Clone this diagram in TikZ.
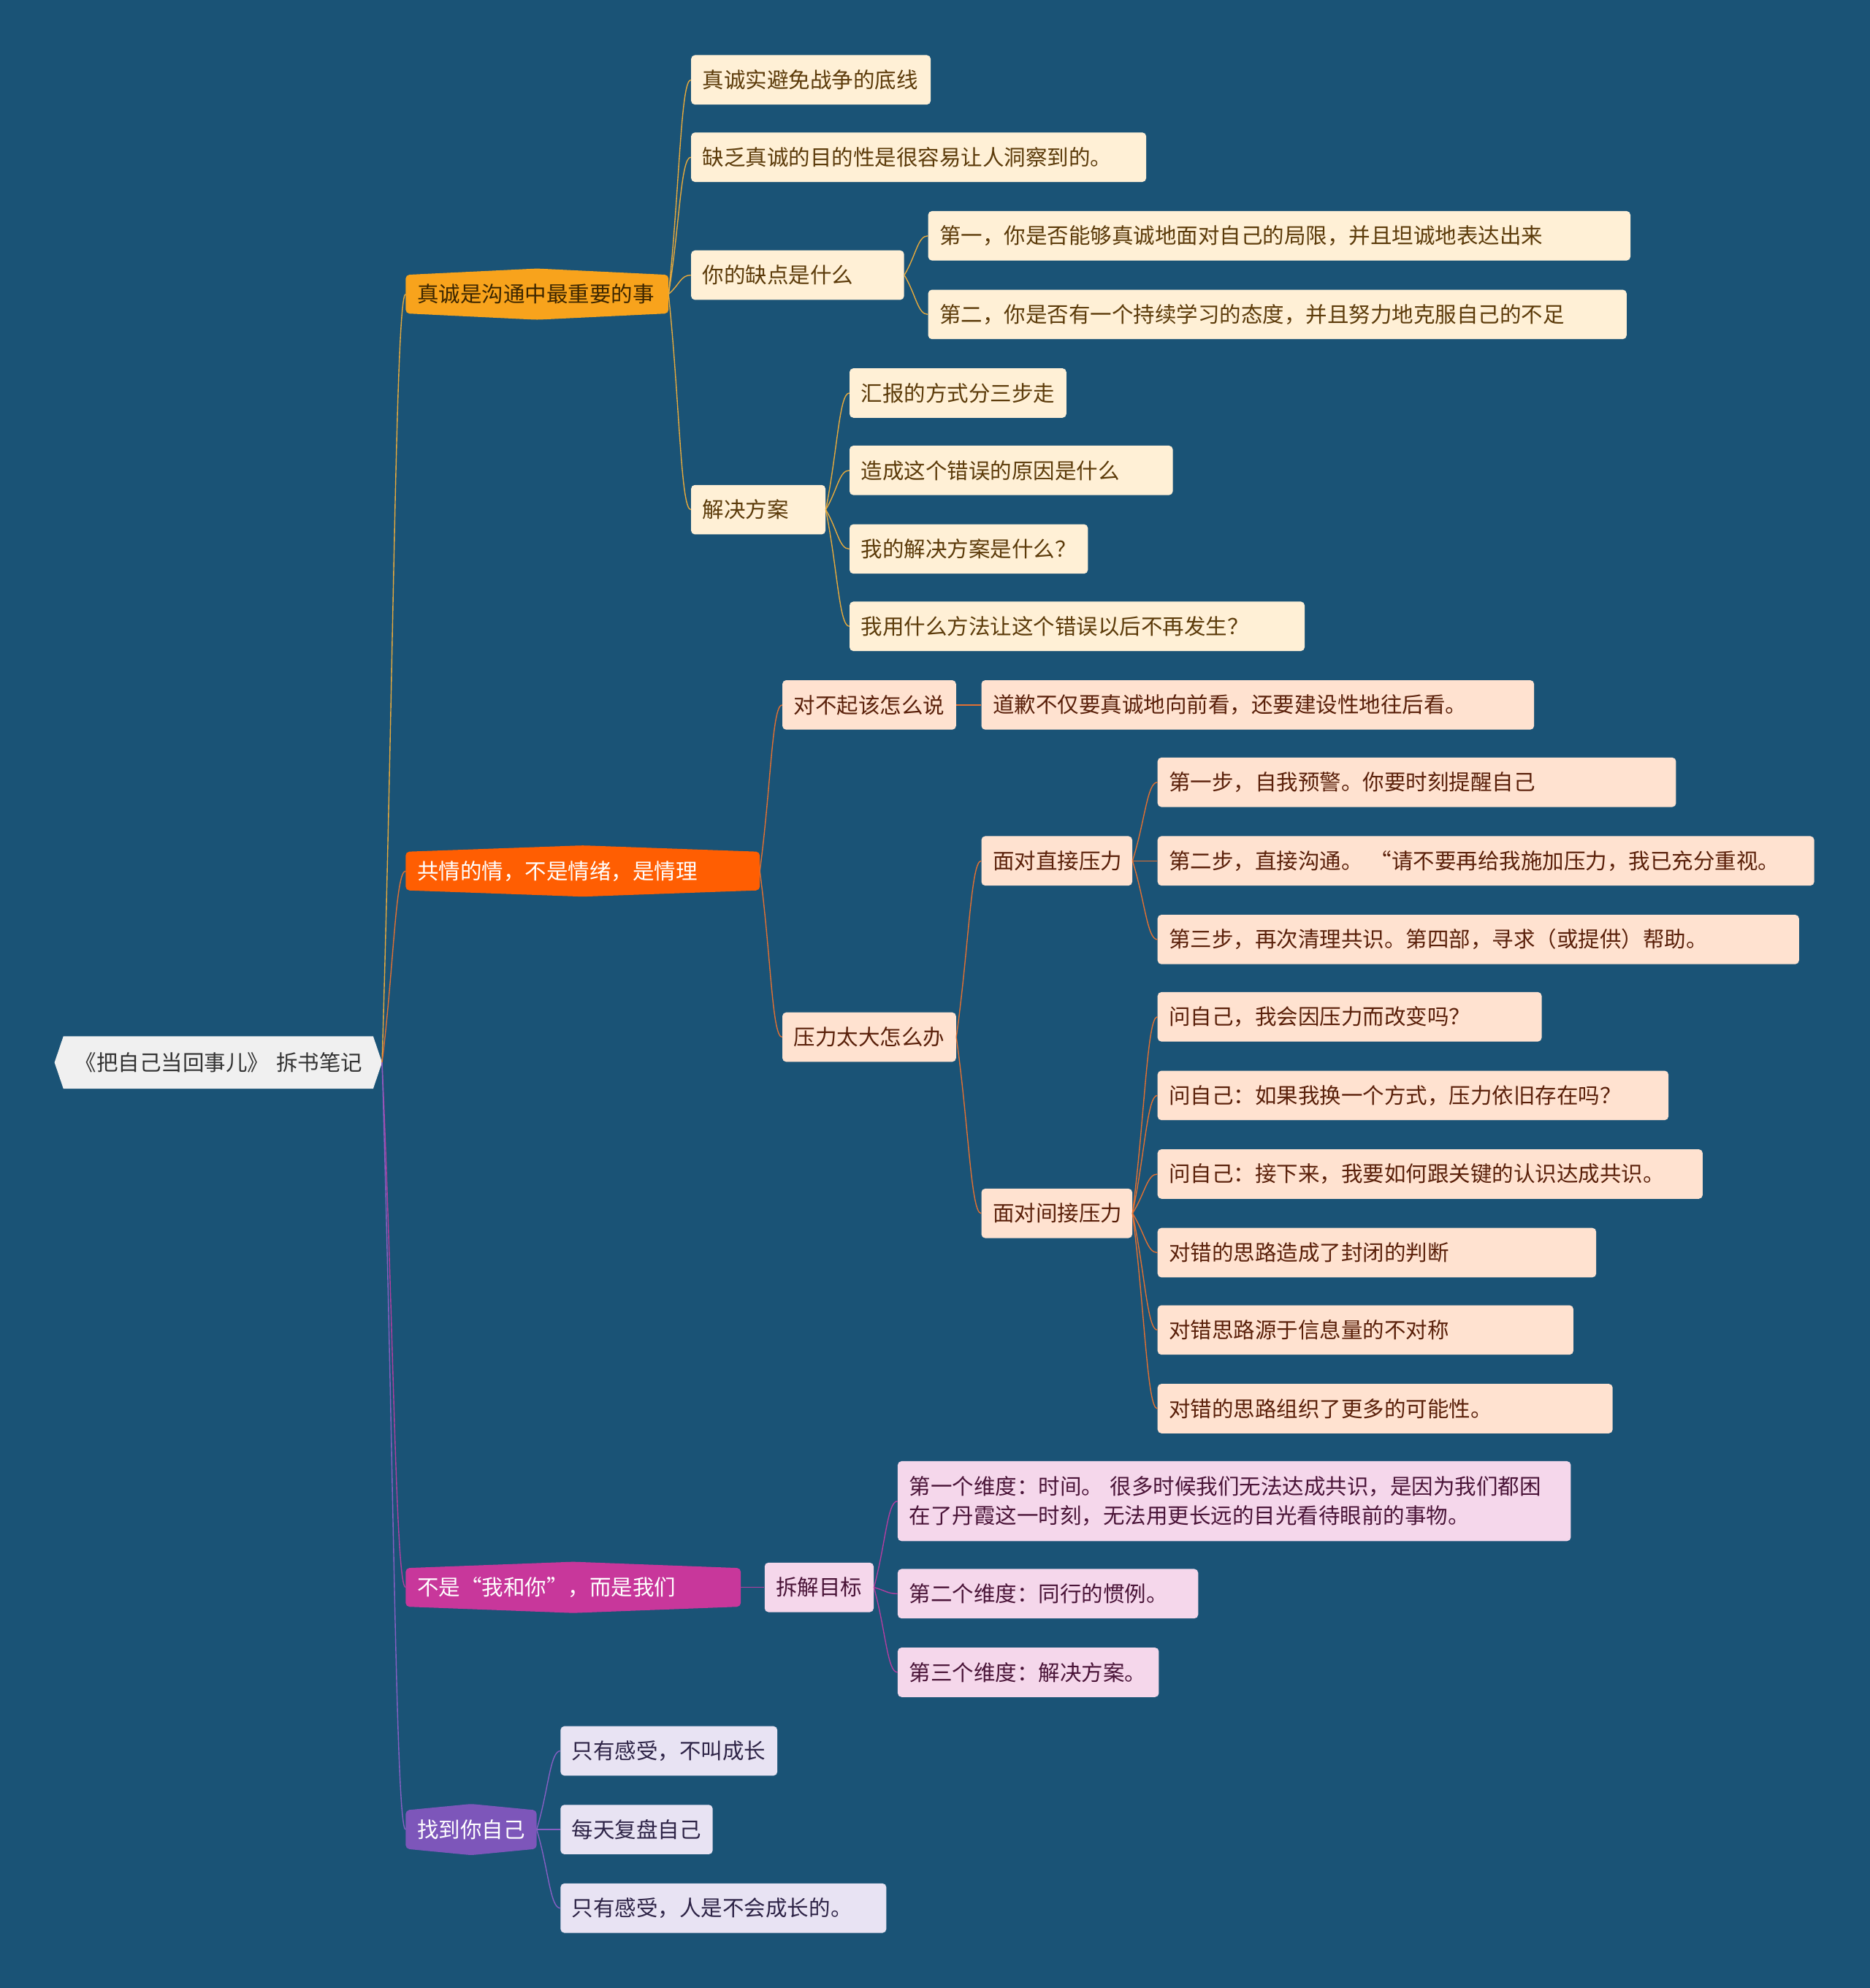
\documentclass[tikz,border=0pt]{standalone}
\usepackage{fontspec}
\setmainfont{Noto Sans CJK SC}
\usepackage{tikz}
\usetikzlibrary{calc, backgrounds}
\definecolor{latarBiru}{RGB}{26,83,118}
\definecolor{akarAbu}{RGB}{240,240,240}
\definecolor{kuningCabang}{RGB}{248,163,28}
\definecolor{oranyeCabang}{RGB}{255,94,2}
\definecolor{magentaCabang}{RGB}{200,55,155}
\definecolor{unguCabang}{RGB}{125,86,186}
\definecolor{krimDaun}{RGB}{255,240,214}
\definecolor{persikDaun}{RGB}{255,226,208}
\definecolor{pinkDaun}{RGB}{245,215,235}
\definecolor{lavenderDaun}{RGB}{232,227,243}
\definecolor{kuningGaris}{RGB}{232,170,60}
\definecolor{oranyeGaris}{RGB}{226,112,50}
\definecolor{magentaGaris}{RGB}{178,62,160}
\definecolor{unguGaris}{RGB}{135,95,195}

\begin{document}
\begin{tikzpicture}[
  x=1pt, y=-1pt,
  tulis/.style={font=\fontsize{17}{23}\selectfont, anchor=west, align=left, inner ysep=0pt, inner xsep=9pt},
  akar/.style={tulis, minimum height=41pt, text=black!80},
  cab/.style={tulis, minimum height=30pt, text=white},
  daun/.style={tulis, minimum height=39pt, rounded corners=3pt},
  daunK/.style={daun, fill=krimDaun, text={rgb,255:red,92;green,59;blue,10}},
  daunP/.style={daun, fill=persikDaun, text={rgb,255:red,90;green,32;blue,10}},
  daunM/.style={daun, fill=pinkDaun, text={rgb,255:red,74;green,20;blue,56}},
  daunU/.style={daun, fill=lavenderDaun, text={rgb,255:red,46;green,36;blue,71}},
  garis/.style={line width=0.8pt},
  hub/.style={to path={.. controls ($(\tikztostart)!0.5!(\tikztotarget)$) and ($(\tikztotarget)+(-8,0)$) .. (\tikztotarget)}},
]
  \node[akar, text width=226pt] (akar) at (50,838) {《把自己当回事儿》~拆书笔记};
  \coordinate (akarUjung) at ([xshift=7pt]akar.east);

  % cabang utama
  \node[cab, text={rgb,255:red,60;green,38;blue,0}, text width=189pt] (c1) at (320,232) {真诚是沟通中最重要的事};
  \node[cab, text width=261pt] (c2) at (320,687) {共情的情，不是情绪，是情理};
  \node[cab, text width=246pt] (c3) at (320,1252) {不是“我和你”，而是我们};
  \node[cab, text width=85pt]  (c4) at (320,1443) {找到你自己};

  % cabang 1
  \node[daunK, text width=171pt] (a1) at (545,63)  {真诚实避免战争的底线};
  \node[daunK, text width=341pt] (a2) at (545,124) {缺乏真诚的目的性是很容易让人洞察到的。};
  \node[daunK, text width=150pt] (a3) at (545,217) {你的缺点是什么};
  \node[daunK, text width=536pt] (a31) at (732,186) {第一，你是否能够真诚地面对自己的局限，并且坦诚地表达出来};
  \node[daunK, text width=533pt] (a32) at (732,248) {第二，你是否有一个持续学习的态度，并且努力地克服自己的不足};
  \node[daunK, text width=88pt]  (a4) at (545,402) {解决方案};
  \node[daunK, text width=153pt] (a41) at (670,310) {汇报的方式分三步走};
  \node[daunK, text width=237pt] (a42) at (670,371) {造成这个错误的原因是什么};
  \node[daunK, text width=170pt] (a43) at (670,433) {我的解决方案是什么？};
  \node[daunK, text width=341pt] (a44) at (670,494) {我用什么方法让这个错误以后不再发生？};

  % cabang 2
  \node[daunP, text width=119pt] (b1) at (617,556) {对不起该怎么说};
  \node[daunP, text width=418pt] (b11) at (774,556) {道歉不仅要真诚地向前看，还要建设性地往后看。};
  \node[daunP, text width=119pt] (b2) at (617,818) {压力太大怎么办};
  \node[daunP, text width=101pt] (b21) at (774,679) {面对直接压力};
  \node[daunP, text width=391pt] (b211) at (913,617) {第一步，自我预警。你要时刻提醒自己};
  \node[daunP, text width=500pt] (b212) at (913,679) {第二步，直接沟通。 “请不要再给我施加压力，我已充分重视。};
  \node[daunP, text width=488pt] (b213) at (913,741) {第三步，再次清理共识。第四部，寻求（或提供）帮助。};
  \node[daunP, text width=101pt] (b22) at (774,957) {面对间接压力};
  \node[daunP, text width=285pt] (b221) at (913,802)  {问自己，我会因压力而改变吗？};
  \node[daunP, text width=385pt] (b222) at (913,864)  {问自己：如果我换一个方式，压力依旧存在吗？};
  \node[daunP, text width=412pt] (b223) at (913,926)  {问自己：接下来，我要如何跟关键的认识达成共识。};
  \node[daunP, text width=328pt] (b224) at (913,988)  {对错的思路造成了封闭的判断};
  \node[daunP, text width=310pt] (b225) at (913,1049) {对错思路源于信息量的不对称};
  \node[daunP, text width=341pt] (b226) at (913,1111) {对错的思路组织了更多的可能性。};

  % cabang 3
  \node[daunM, text width=68pt] (m1) at (603,1252) {拆解目标};
  \node[daunM, text width=513pt, minimum height=63pt] (m11) at (708,1184) {第一个维度：时间。 很多时候我们无法达成共识，是因为我们都困\\在了丹霞这一时刻，无法用更长远的目光看待眼前的事物。};
  \node[daunM, text width=219pt] (m12) at (708,1257) {第二个维度：同行的惯例。};
  \node[daunM, text width=188pt] (m13) at (708,1319) {第三个维度：解决方案。};

  % cabang 4
  \node[daunU, text width=153pt] (u1) at (442,1381) {只有感受，不叫成长};
  \node[daunU, text width=102pt] (u2) at (442,1443) {每天复盘自己};
  \node[daunU, text width=239pt] (u3) at (442,1505) {只有感受，人是不会成长的。};

  % garis penghubung
  \foreach \b/\w in {c1/kuningGaris, c2/oranyeGaris, c3/magentaGaris, c4/unguGaris}
    \draw[garis, \w] (akarUjung) to[hub] (\b.west);
  \foreach \a/\b in {c1/a1, c1/a2, c1/a3, c1/a4, a3/a31, a3/a32, a4/a41, a4/a42, a4/a43, a4/a44}
    \draw[garis, kuningGaris] (\a.east) to[hub] (\b.west);
  \foreach \a/\b in {c2/b1, c2/b2, b1/b11, b2/b21, b2/b22, b21/b211, b21/b212, b21/b213,
                     b22/b221, b22/b222, b22/b223, b22/b224, b22/b225, b22/b226}
    \draw[garis, oranyeGaris] (\a.east) to[hub] (\b.west);
  \foreach \a/\b in {c3/m1, m1/m11, m1/m12, m1/m13}
    \draw[garis, magentaGaris] (\a.east) to[hub] (\b.west);
  \foreach \b in {u1, u2, u3}
    \draw[garis, unguGaris] (c4.east) to[hub] (\b.west);

  \begin{scope}[on background layer]
    \fill[latarBiru] (0,0) rectangle (1475,1568);
    \fill[akarAbu] (akar.north west) -- (akar.north east) -- (akarUjung) -- (akar.south east)
      -- (akar.south west) -- ([xshift=-7pt]akar.west) -- cycle;
    \foreach \n/\w in {c1/kuningCabang, c2/oranyeCabang, c3/magentaCabang, c4/unguCabang}
      \fill[\w, rounded corners=3pt] (\n.north west) -- ([yshift=5pt]\n.north) -- (\n.north east)
        -- (\n.south east) -- ([yshift=-5pt]\n.south) -- (\n.south west) -- cycle;
  \end{scope}
\end{tikzpicture}
\end{document}
